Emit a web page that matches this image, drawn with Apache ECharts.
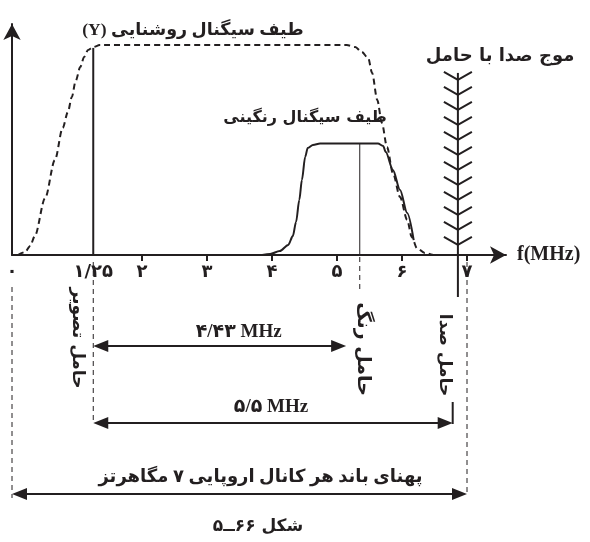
<!DOCTYPE html>
<html>
<head>
<meta charset="utf-8">
<script src="https://cdn.jsdelivr.net/npm/echarts@6/dist/echarts.min.js"></script>
<style>
    html, body { margin: 0; padding: 0; background: #fff; }
    #chart { width: 590px; height: 542px; }
</style>
</head>
<body>
<div id="chart"></div>
<script>
// luminance spectrum (dashed) - x in MHz as drawn, y as relative level
const lumaF = [0.09, 0.2, 0.28, 0.35, 0.51, 0.66, 0.78, 0.86, 0.92, 0.98, 1.05, 1.11, 1.17, 1.25, 1.35,
    5.15, 5.28, 5.38, 5.48, 5.54, 5.62, 5.69, 5.77, 5.86, 5.97, 6.08, 6.15, 6.23, 6.35, 6.48]
const lumaV = [0, 1.4, 4.3, 9, 27.1, 45.2, 60.5, 68.1, 75.2, 82.9, 89.5, 94.3, 97.6, 99, 100,
    100, 99, 96.7, 93.8, 86.7, 73.8, 62.9, 51.4, 39, 27.6, 16.7, 8.6, 3.3, 1, 0]

// chrominance spectrum (solid)
const chromaF = [3.85, 3.97, 4.12, 4.25, 4.32, 4.37, 4.42, 4.46, 4.51, 4.55, 4.63, 4.74,
    5.63, 5.71, 5.75, 5.86, 5.97, 6.08, 6.18]
const chromaV = [0, 0.5, 1.9, 4.8, 9, 15.7, 26.2, 35.7, 46.7, 51, 52.4, 53.1,
    53.1, 51.9, 49, 40.5, 31, 20, 7.1]

// axis ticks and labels
const tickValues = [2, 3, 4, 5, 6, 7]
const labelValues = [0, 1.25, 2, 3, 4, 5, 6, 7]

// carriers: picture, colour, sound
const carrierNames = ['حامل تصویر', 'حامل رنگ', 'حامل صدا']
const carrierPos = [1.25, 5.35, 6.86]
const carrierTop = [98.6, 53.1, 86.7]

// dimension arrows under the axis
const spanFrom = [1.25, 1.25, 0]
const spanTo = [5.14, 6.78, 7]
const spanText = ['۴/۴۳ MHz', '۵/۵ MHz', 'پهنای باند هر کانال اروپایی ۷ مگاهرتز']

// dashed guide lines under the axis
const guidePos = [0, 1.25, 5.35, 7]

const ink = '#231f20'
const faFont = "'DejaVu Sans'"
const mixFont = "'Liberation Serif', 'DejaVu Sans'"

// layout (pixels below the axis)
const carrierLook = [
    { width: 2, below: 0, labelDx: -16, labelDy: 83, size: 17 },
    { width: 1, below: 0, labelDx: 3, labelDy: 94, size: 19 },
    { width: 2, below: 42, chevrons: 12, labelDx: -13, labelDy: 100, size: 17 },
]
const guideRange = [[32, 243], [7, 168], [2, 35], [7, 239]]
const spanRows = [91, 168, 239]
const spanTextDx = [19, -2, 21]
const spanTextDy = [14, 16, 17]
const spanTextSize = [19, 19, 18]

const faDigits = '۰۱۲۳۴۵۶۷۸۹'
function toFa(v) {
    return String(v).replace('.', '/').replace(/\d/g, d => faDigits[d])
}

function renderCarrier(params, api) {
    const i = params.dataIndex
    const look = carrierLook[i]
    const base = api.coord([api.value(0), 0])
    const peak = api.coord([api.value(0), api.value(1)])
    const x = base[0]
    const kids = [{
        type: 'line',
        shape: { x1: x, y1: base[1] + look.below, x2: x, y2: peak[1] },
        style: { stroke: ink, lineWidth: look.width },
    }]
    for (let k = 0; k < (look.chevrons || 0); k++) {
        const y = peak[1] + 7 + k * 15
        kids.push({
            type: 'polyline',
            shape: { points: [[x - 14, y - 8], [x, y], [x + 14, y - 8]] },
            style: { stroke: ink, fill: null, lineWidth: 2 },
        })
    }
    kids.push({
        type: 'text',
        x: x + look.labelDx,
        y: base[1] + look.labelDy,
        rotation: -Math.PI / 2,
        style: {
            text: carrierNames[i], fill: ink,
            font: 'bold ' + look.size + 'px ' + faFont,
            align: 'center', verticalAlign: 'middle',
        },
    })
    return { type: 'group', children: kids }
}

function renderGuide(params, api) {
    const i = params.dataIndex
    const p = api.coord([api.value(0), 0])
    return {
        type: 'line',
        shape: { x1: p[0], y1: p[1] + guideRange[i][0], x2: p[0], y2: p[1] + guideRange[i][1] },
        style: { stroke: ink, lineWidth: 1, lineDash: [5, 4] },
    }
}

function renderSpan(params, api) {
    const i = params.dataIndex
    const a = api.coord([api.value(0), 0])
    const b = api.coord([api.value(1), 0])
    const y = a[1] + spanRows[i]
    const kids = [
        { type: 'line', shape: { x1: a[0] + 4, y1: y, x2: b[0] - 4, y2: y }, style: { stroke: ink, lineWidth: 2 } },
        { type: 'polygon', shape: { points: [[a[0], y], [a[0] + 15, y - 6], [a[0] + 15, y + 6]] }, style: { fill: ink } },
        { type: 'polygon', shape: { points: [[b[0], y], [b[0] - 15, y - 6], [b[0] - 15, y + 6]] }, style: { fill: ink } },
        {
            type: 'text',
            x: (a[0] + b[0]) / 2 + spanTextDx[i],
            y: y - spanTextDy[i],
            style: {
                text: spanText[i], fill: ink,
                font: 'bold ' + spanTextSize[i] + 'px ' + mixFont,
                align: 'center', verticalAlign: 'middle',
            },
        },
    ]
    if (i === 1) {
        kids.push({ type: 'line', shape: { x1: b[0], y1: y - 21, x2: b[0], y2: y + 1 }, style: { stroke: ink, lineWidth: 2 } })
    }
    return { type: 'group', children: kids }
}

function titleText(text, x, y, size, family) {
    return {
        type: 'text', x: x, y: y,
        style: {
            text: text, fill: ink,
            font: 'bold ' + size + 'px ' + family,
            align: 'center', verticalAlign: 'middle',
        },
    }
}

const option = {
    animation: false,
    backgroundColor: '#fff',
    grid: { left: 12, right: 84, top: 24, bottom: 287 },
    xAxis: {
        type: 'value',
        min: 0,
        max: 7.6,
        name: 'f(MHz)',
        nameLocation: 'end',
        nameGap: 11,
        nameTextStyle: { color: ink, fontSize: 20, fontWeight: 'bold', fontFamily: 'Liberation Serif' },
        axisLine: {
            lineStyle: { color: ink, width: 2 },
            symbol: ['none', 'arrow'],
            symbolSize: [13, 16],
        },
        axisTick: {
            customValues: tickValues,
            length: 6,
            lineStyle: { color: ink, width: 2 },
        },
        axisLabel: {
            customValues: labelValues,
            formatter: toFa,
            margin: 8,
            color: ink,
            fontSize: 18,
            fontWeight: 'bold',
            fontFamily: 'DejaVu Sans',
        },
        splitLine: { show: false },
    },
    yAxis: {
        type: 'value',
        min: 0,
        max: 110,
        axisLine: {
            show: true,
            lineStyle: { color: ink, width: 2 },
            symbol: ['none', 'arrow'],
            symbolSize: [13, 16],
        },
        axisTick: { show: false },
        axisLabel: { show: false },
        splitLine: { show: false },
    },
    series: [
        {
            name: 'luminance',
            type: 'line',
            data: lumaF.map((f, i) => [f, lumaV[i]]),
            showSymbol: false,
            smooth: 0.3,
            smoothMonotone: 'x',
            lineStyle: { color: ink, width: 2, type: [6, 4] },
        },
        {
            name: 'chroma',
            type: 'line',
            data: chromaF.map((f, i) => [f, chromaV[i]]),
            showSymbol: false,
            smooth: 0.3,
            smoothMonotone: 'x',
            lineStyle: { color: ink, width: 2 },
        },
        {
            name: 'carriers',
            type: 'custom',
            renderItem: renderCarrier,
            data: carrierPos.map((f, i) => [f, carrierTop[i]]),
            clip: false,
        },
        {
            name: 'guides',
            type: 'custom',
            renderItem: renderGuide,
            data: guidePos.map(f => [f]),
            clip: false,
        },
        {
            name: 'spans',
            type: 'custom',
            renderItem: renderSpan,
            data: spanFrom.map((f, i) => [f, spanTo[i]]),
            clip: false,
        },
    ],
    graphic: [
        titleText('\u202Bطیف سیگنال روشنایی (Y)\u202C', 193, 30, 17.5, mixFont),
        titleText('موج صدا با حامل', 500, 56, 18, faFont),
        titleText('طیف سیگنال رنگینی', 305, 118, 16, faFont),
        titleText('شکل ۶۶ــ۵', 258, 527, 17, faFont),
    ],
}

const chart = echarts.init(document.getElementById('chart'))
chart.setOption(option)
</script>
</body>
</html>
